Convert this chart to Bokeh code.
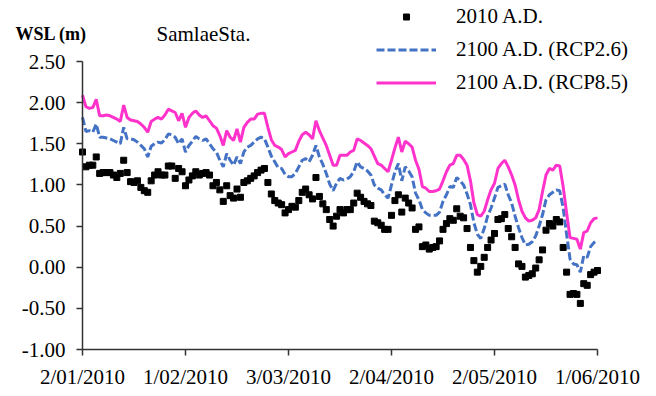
import pandas as pd
from bokeh.plotting import figure
from bokeh.models import Range1d, FixedTicker, PrintfTickFormatter, Label
from bokeh.embed import file_html
from bokeh.resources import INLINE

start_date = "2010-01-02"
end_date = "2010-06-01"
tick_dates = ["2010-01-02", "2010-02-01", "2010-03-03", "2010-04-02", "2010-05-02", "2010-06-01"]
tick_labels = ["2/01/2010", "1/02/2010", "3/03/2010", "2/04/2010", "2/05/2010", "1/06/2010"]
y_ticks = [-1.0, -0.5, 0.0, 0.5, 1.0, 1.5, 2.0, 2.5]

wsl_2010 = [
    1.40, 1.22, 1.24, 1.24, 1.34, 1.14, 1.15, 1.15, 1.15, 1.12,
    1.09, 1.14, 1.30, 1.15, 1.04, 1.03, 1.05, 0.97, 0.93, 0.91,
    1.05, 1.12, 1.16, 1.12, 1.12, 1.23, 1.23, 1.08, 1.20, 1.16,
    0.99, 1.06, 1.11, 1.16, 1.12, 1.14, 1.15, 1.12, 0.99, 1.03,
    0.94, 0.80, 0.99, 0.87, 0.84, 0.95, 0.85, 1.03, 1.05, 1.08,
    1.11, 1.15, 1.18, 1.20, 1.03, 0.89, 0.81, 0.78, 0.76, 0.66,
    0.70, 0.74, 0.73, 0.81, 0.91, 0.95, 0.88, 0.83, 1.09, 0.86,
    0.77, 0.70, 0.58, 0.50, 0.62, 0.70, 0.66, 0.70, 0.70, 0.78,
    0.90, 0.85, 0.80, 0.77, 0.75, 0.56, 0.54, 0.51, 0.46, 0.46,
    0.63, 0.81, 0.88, 0.67, 0.84, 0.78, 0.72, 0.46, 0.49, 0.25,
    0.27, 0.22, 0.24, 0.25, 0.32, 0.46, 0.53, 0.59, 0.57, 0.71,
    0.62, 0.60, 0.47, 0.24, 0.08, -0.06, 0.01, 0.12, 0.24, 0.33,
    0.41, 0.58, 0.59, 0.64, 0.47, 0.37, 0.24, 0.04, 0.01, -0.12,
    -0.10, -0.08, -0.01, 0.09, 0.21, 0.45, 0.53, 0.50, 0.58, 0.55,
    0.24, -0.06, -0.33, -0.32, -0.33, -0.44, -0.20, -0.22, -0.09, -0.06,
    -0.04,
]

wsl_rcp26 = [
    1.82, 1.65, 1.66, 1.64, 1.74, 1.58, 1.58, 1.57, 1.56, 1.54,
    1.52, 1.50, 1.70, 1.56, 1.56, 1.55, 1.52, 1.48, 1.44, 1.34,
    1.47, 1.50, 1.52, 1.51, 1.55, 1.62, 1.61, 1.58, 1.50, 1.56,
    1.40, 1.48, 1.53, 1.59, 1.56, 1.54, 1.56, 1.50, 1.44, 1.40,
    1.30, 1.22, 1.38, 1.30, 1.24, 1.34, 1.26, 1.40, 1.46, 1.48,
    1.52, 1.56, 1.58, 1.56, 1.46, 1.35, 1.28, 1.21, 1.20, 1.13,
    1.10, 1.10, 1.14, 1.22, 1.30, 1.32, 1.28, 1.36, 1.48, 1.34,
    1.25, 1.14, 1.01, 0.93, 1.02, 1.08, 1.06, 1.07, 1.10, 1.16,
    1.28, 1.22, 1.20, 1.17, 1.12, 1.00, 0.96, 0.94, 0.88, 0.84,
    1.00, 1.16, 1.26, 1.05, 1.22, 1.17, 1.10, 0.90, 0.82, 0.70,
    0.66, 0.63, 0.63, 0.63, 0.67, 0.80, 0.88, 0.98, 0.97, 1.09,
    1.05, 1.00, 0.89, 0.76, 0.54, 0.40, 0.35, 0.47, 0.62, 0.72,
    0.84, 0.97, 0.99, 1.01, 0.88, 0.78, 0.62, 0.48, 0.36, 0.27,
    0.28, 0.31, 0.38, 0.50, 0.64, 0.82, 0.88, 0.91, 0.94, 0.93,
    0.72, 0.40, 0.10, 0.04, 0.03, -0.06, 0.14, 0.12, 0.25, 0.30,
    0.33,
]

wsl_rcp85 = [
    2.09, 1.95, 1.93, 1.94, 2.04, 1.84, 1.84, 1.85, 1.84, 1.82,
    1.80, 1.77, 1.97, 1.82, 1.79, 1.78, 1.77, 1.74, 1.70, 1.64,
    1.77, 1.80, 1.82, 1.80, 1.85, 1.92, 1.90, 1.88, 1.78, 1.87,
    1.70, 1.82, 1.87, 1.90, 1.85, 1.82, 1.84, 1.78, 1.72, 1.69,
    1.60, 1.48, 1.66, 1.58, 1.54, 1.68, 1.52, 1.70, 1.76, 1.80,
    1.80, 1.86, 1.87, 1.87, 1.70, 1.55, 1.48, 1.46, 1.43, 1.34,
    1.38, 1.40, 1.42, 1.53, 1.61, 1.64, 1.61, 1.56, 1.78, 1.66,
    1.57, 1.48, 1.36, 1.24, 1.24, 1.36, 1.36, 1.36, 1.40, 1.42,
    1.56, 1.54, 1.51, 1.48, 1.44, 1.35, 1.26, 1.24, 1.20, 1.16,
    1.30, 1.45, 1.58, 1.40, 1.53, 1.50, 1.46, 1.30, 1.19, 0.98,
    0.96, 0.92, 0.92, 0.93, 0.95, 1.05, 1.16, 1.24, 1.26, 1.36,
    1.36, 1.31, 1.24, 1.05, 0.78, 0.64, 0.62, 0.68, 0.82, 0.94,
    1.02, 1.20, 1.26, 1.30, 1.22, 1.12, 1.00, 0.82, 0.68, 0.60,
    0.56, 0.57, 0.60, 0.70, 0.92, 1.12, 1.20, 1.18, 1.24, 1.23,
    0.98, 0.66, 0.36, 0.35, 0.34, 0.22, 0.42, 0.44, 0.54, 0.59,
    0.60,
]

dates = pd.date_range(start_date, end_date, freq="D")
day = [int((d - dates[0]).days) for d in dates]
tick_days = [int((pd.Timestamp(t) - dates[0]).days) for t in tick_dates]

FONT = "Liberation Serif"

# layout (pixels)
W, H = 656, 396
AX_LEFT, AX_RIGHT, AX_TOP, AX_BOTTOM = 82, 597, 61, 349
x0, x1 = day[0], day[-1]
y0, y1 = y_ticks[0], y_ticks[-1]
ppx = (AX_RIGHT - AX_LEFT) / (x1 - x0)
ppy = (AX_BOTTOM - AX_TOP) / (y1 - y0)

p = figure(width=W, height=H, output_backend="svg", toolbar_location=None,
           x_range=Range1d(x0 - AX_LEFT / ppx, x1 + (W - AX_RIGHT) / ppx),
           y_range=Range1d(y0 - (H - AX_BOTTOM) / ppy, y1 + AX_TOP / ppy),
           min_border_left=0, min_border_right=0, min_border_top=0,
           min_border_bottom=0)
p.outline_line_color = None
p.grid.visible = False
p.background_fill_color = "white"
p.border_fill_color = "white"

r1 = p.scatter(day, wsl_2010, marker="square", size=6, color="black", legend_label="2010 A.D.")
r2 = p.line(day, wsl_rcp26, line_color="#4472C4", line_width=3, line_dash="8 3",
            legend_label="2100 A.D. (RCP2.6)")
r3 = p.line(day, wsl_rcp85, line_color="#FF33CC", line_width=3, legend_label="2100 A.D. (RCP8.5)")

xa = p.xaxis[0]
xa.ticker = FixedTicker(ticks=tick_days)
xa.major_label_overrides = {d: lab for d, lab in zip(tick_days, tick_labels)}
xa.bounds = (x0, x1)
xa.fixed_location = y0
ya = p.yaxis[0]
ya.ticker = FixedTicker(ticks=y_ticks)
ya.formatter = PrintfTickFormatter(format="%.2f")
ya.bounds = (y0, y1)
ya.fixed_location = x0

for ax in (xa, ya):
    ax.axis_line_color = "#333333"
    ax.axis_line_width = 1.5
    ax.major_tick_line_color = "#333333"
    ax.major_tick_line_width = 1.5
    ax.major_tick_in = 0
    ax.major_tick_out = 6
    ax.minor_tick_line_color = None
    ax.major_label_text_font = FONT
    ax.major_label_text_font_size = "21px"
    ax.major_label_text_color = "black"
xa.major_label_standoff = 9
ya.major_label_standoff = 11

leg = p.legend[0]
leg.location = (376, 254 + (H - AX_BOTTOM))
leg.border_line_color = None
leg.background_fill_alpha = 0
leg.padding = 0
leg.margin = 0
leg.spacing = 8
leg.glyph_width = 60
leg.glyph_height = 15
leg.label_height = 20
leg.label_standoff = 20
leg.label_text_font = FONT
leg.label_text_font_size = "21px"
leg.label_text_color = "black"

p.add_layout(Label(x=15, y=H - 33, x_units="screen", y_units="screen", text="WSL (m)",
                   text_font=FONT, text_font_size="18px", text_font_style="bold",
                   text_baseline="alphabetic", text_color="black"))
p.add_layout(Label(x=156, y=H - 33, x_units="screen", y_units="screen", text="SamlaeSta.",
                   text_font=FONT, text_font_size="21px",
                   text_baseline="alphabetic", text_color="black"))

open("out.html", "w").write(file_html(p, INLINE))
